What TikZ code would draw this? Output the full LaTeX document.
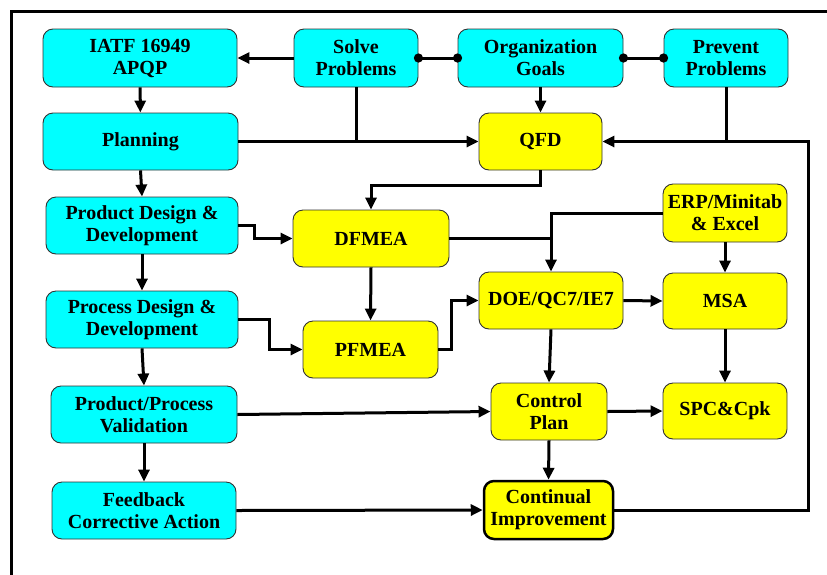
\documentclass[tikz,border=0pt]{standalone}
\usepackage{fontspec}
\setmainfont{Liberation Serif}[BoldFont={Liberation Serif Bold}]
\usetikzlibrary{arrows.meta}
\definecolor{boxcyan}{RGB}{0,255,255}
\definecolor{boxyellow}{RGB}{255,255,0}
\definecolor{edgegray}{RGB}{50,50,50}
\begin{document}
\begin{tikzpicture}[x=1pt,y=-1pt,
  base/.style={draw=edgegray,line width=0.9pt,rounded corners=10pt,align=center,inner sep=1pt,
    font=\rmfamily\bfseries\fontsize{20}{22}\selectfont},
  cbox/.style={base,fill=boxcyan},
  ybox/.style={base,fill=boxyellow},
  arr/.style={line width=3pt,-{Triangle[length=12pt,width=11pt]}},
  plain/.style={line width=3pt},
  dotline/.style={line width=3pt,{Circle[length=9pt]}-{Circle[length=9pt]},shorten <=-4.5pt,shorten >=-4.5pt}]
\useasboundingbox (0,0) rectangle (827,574);
\draw[line width=3pt] (11,590) -- (11,11) -- (840,11);
% nodes
\node[cbox,minimum width=194pt,minimum height=58pt] (iatf) at (140,58) {IATF 16949\\APQP};
\node[cbox,minimum width=124pt,minimum height=58pt] (solve) at (356,58) {Solve\\Problems};
\node[cbox,minimum width=165pt,minimum height=58pt] (org) at (540.5,58) {Organization\\Goals};
\node[cbox,minimum width=124pt,minimum height=58pt] (prevent) at (726,58) {Prevent\\Problems};
\node[cbox,minimum width=195pt,minimum height=57pt] (planning) at (140.5,141.5) {Planning};
\node[ybox,minimum width=123pt,minimum height=57pt] (qfd) at (540.5,141.5) {QFD};
\node[cbox,minimum width=192pt,minimum height=57pt] (pdd) at (142,225.5) {Product Design \&\\Development};
\node[ybox,minimum width=156pt,minimum height=57pt] (dfmea) at (371,238.5) {DFMEA};
\node[ybox,minimum width=124pt,minimum height=58pt] (erp) at (725,213) {ERP/Minitab\\\& Excel};
\node[cbox,minimum width=192pt,minimum height=57pt] (prd) at (142,319.5) {Process Design \&\\Development};
\node[ybox,minimum width=135pt,minimum height=57pt] (pfmea) at (370.5,349.5) {PFMEA};
\node[ybox,minimum width=144pt,minimum height=57pt] (doe) at (551,300.5) {DOE/QC7/IE7};
\node[ybox,minimum width=124pt,minimum height=56pt] (msa) at (725,301) {MSA};
\node[cbox,minimum width=186pt,minimum height=57pt] (val) at (144,414.5) {Product/Process\\Validation};
\node[ybox,minimum width=116pt,minimum height=57pt] (cp) at (549,411.5) {Control\\Plan};
\node[ybox,minimum width=124pt,minimum height=56pt] (spc) at (725,411) {SPC\&Cpk};
\node[cbox,minimum width=184pt,minimum height=57pt] (fb) at (144,510.5) {Feedback\\Corrective Action};
\node[ybox,draw=black,line width=2.5pt,minimum width=129pt,minimum height=58pt] (ci) at (548.5,510) {Continual\\Improvement};
\coordinate (rt) at (808,0);
% connectors
\draw[arr] (solve) -- (iatf);
\draw[dotline] (solve.east) -- (org.west);
\draw[dotline] (org.east) -- (prevent.west);
\draw[arr] (iatf) -- (planning);
\draw[arr] (org) -- (qfd);
\draw[arr] (planning.east) -- (qfd.west);
\draw[plain] (solve.south) -- (solve.south |- planning.east);
\draw[plain] (prevent.south) -- (prevent.south |- qfd.east);
\draw[arr] (ci.east) -- (ci.east -| rt) -- (rt |- qfd.east) -- (qfd.east);
\draw[arr] (planning.south) -- (pdd.north);
\draw[arr] (qfd.south) -- ++(0,15) -| (dfmea.north);
\draw[arr] (pdd.east) -- ++(16,0) |- (dfmea.west);
\draw[arr] (dfmea.south) -- (pfmea.north);
\draw[arr] (prd.east) -- ++(31,0) |- (pfmea.west);
\draw[arr] (pfmea.east) -- ++(13,0) |- (doe.west);
\draw[arr] (erp.west) -| (doe.north);
\draw[plain] (dfmea.east) -- (doe.north |- dfmea.east);
\draw[arr] (doe.east) -- (msa.west);
\draw[arr] (erp) -- (msa);
\draw[arr] (msa) -- (spc);
\draw[arr] (doe.south) -- (cp.north);
\draw[arr] (cp.east) -- (spc.west);
\draw[arr] (val.east) -- (cp.west);
\draw[arr] (pdd.south) -- (prd.north);
\draw[arr] (prd.south) -- (val.north);
\draw[arr] (val.south) -- (fb.north);
\draw[arr] (cp.south) -- (ci.north);
\draw[arr] (fb.east) -- (ci.west);
\end{tikzpicture}
\end{document}
